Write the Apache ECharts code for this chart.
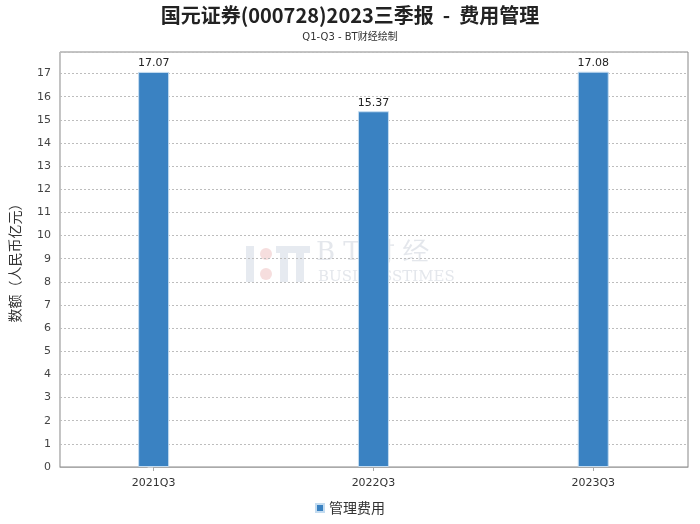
<!DOCTYPE html>
<html><head><meta charset="utf-8">
<script src="https://cdn.jsdelivr.net/npm/echarts@6/dist/echarts.min.js"></script>
<style>html,body{margin:0;padding:0;background:#fff}#c{width:700px;height:524px}</style>
</head><body><div id="c"></div>
<script>
const categories = ['2021Q3', '2022Q3', '2023Q3'];
const seriesName = '管理费用';
const values = [17.07, 15.37, 17.08];
const yTicks = [0,1,2,3,4,5,6,7,8,9,10,11,12,13,14,15,16,17];

const chart = echarts.init(document.getElementById('c'));
const cjk = '"Noto Sans CJK SC", "DejaVu Sans", sans-serif';
const lat = '"DejaVu Sans", "Noto Sans CJK SC", sans-serif';
chart.setOption({
  animation: false,
  backgroundColor: '#fff',
  title: [{
    text: '国元证券(000728)2023三季报  -  费用管理',
    left: 'center', top: 0,
    textStyle: {fontFamily: cjk, fontSize: 20, fontWeight: 'bold', color: '#222'}
  }, {
    text: 'Q1-Q3 - BT财经绘制',
    left: 'center', top: 27,
    textStyle: {fontFamily: lat, fontSize: 10, fontWeight: 'normal', color: '#333'}
  }],
  graphic: [
    {type: 'rect', z: -1, shape: {x: 246, y: 246, width: 8, height: 36}, style: {fill: '#e6eaf0'}},
    {type: 'circle', z: -1, shape: {cx: 266, cy: 254, r: 6}, style: {fill: '#f6dede'}},
    {type: 'circle', z: -1, shape: {cx: 266, cy: 274, r: 6}, style: {fill: '#f6dede'}},
    {type: 'rect', z: -1, shape: {x: 276, y: 246, width: 34, height: 7}, style: {fill: '#e6eaf0'}},
    {type: 'rect', z: -1, shape: {x: 280, y: 253, width: 8, height: 29}, style: {fill: '#e6eaf0'}},
    {type: 'rect', z: -1, shape: {x: 296, y: 253, width: 8, height: 29}, style: {fill: '#e6eaf0'}},
    {type: 'text', z: -1, left: 316, top: 240, style: {text: 'B T 财 经', fontFamily: '"DejaVu Serif", serif', fontSize: 26, fill: '#e4e7ec'}},
    {type: 'text', z: -1, left: 318, top: 270, style: {text: 'BUSINESSTIMES', fontFamily: '"DejaVu Serif", serif', fontSize: 15, fill: '#e4e7ec'}}
  ],
  legend: {
    bottom: 4, left: 'center',
    icon: 'rect', itemWidth: 8, itemHeight: 8, itemGap: 10,
    textStyle: {fontFamily: cjk, fontSize: 14, color: '#333'},
    data: [seriesName]
  },
  grid: {left: 58, right: 12, top: 52, bottom: 57, show: true, borderColor: '#888', borderWidth: 1, backgroundColor: 'transparent'},
  xAxis: {
    type: 'value', min: -0.426, max: 2.431, offset: 4,
    splitLine: {show: false},
    axisLine: {show: true, lineStyle: {color: '#aaa'}},
    axisTick: {show: true, customValues: categories.map((c, i) => i), length: 4, lineStyle: {color: '#aaa'}},
    axisLabel: {customValues: categories.map((c, i) => i), formatter: v => categories[Math.round(v)] || '', fontFamily: lat, fontSize: 11, color: '#333', margin: 7}
  },
  yAxis: {
    type: 'value', min: 0, max: 17.93, interval: 1,
    name: '数额（人民币亿元）', nameLocation: 'middle', nameGap: 38,
    nameTextStyle: {fontFamily: cjk, fontSize: 14, color: '#333'},
    axisLine: {show: false},
    axisTick: {show: true, length: 6, lineStyle: {color: '#ccc'}},
    axisLabel: {fontFamily: lat, fontSize: 11, color: '#444', margin: 9, showMaxLabel: false,
      formatter: v => yTicks.indexOf(v) >= 0 ? String(v) : ''},
    splitLine: {show: true, lineStyle: {type: [2, 2], color: '#bdbdbd'}}
  },
  series: [{
    name: seriesName, type: 'bar', barWidth: 31,
    data: values.map((v, i) => [i, v]),
    itemStyle: {color: '#3a82c2', borderColor: '#c4dcf0', borderWidth: 1},
    label: {show: true, position: 'top', distance: 3, fontFamily: lat, fontSize: 11, color: '#222', formatter: p => p.value[1].toFixed(2)}
  }]
});
</script></body></html>
